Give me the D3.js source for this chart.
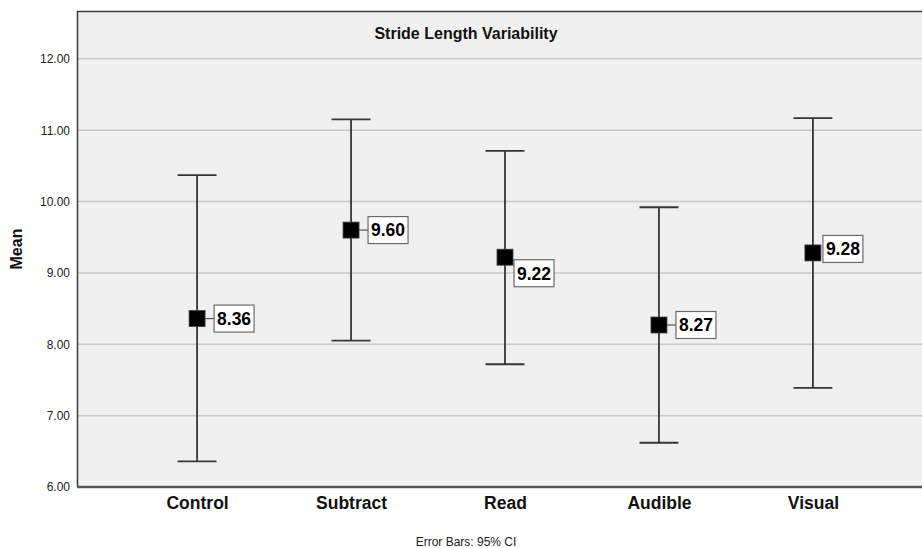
<!DOCTYPE html>
<html>
<head>
<meta charset="utf-8">
<script src="https://cdn.jsdelivr.net/npm/d3@7"></script>
<style>
  html, body { margin: 0; padding: 0; background: #ffffff; }
  svg { display: block; }
</style>
</head>
<body>
<script>
// Stride length variability: group means with 95% confidence intervals
const categories = ["Control", "Subtract", "Read", "Audible", "Visual"];
const means      = [8.36, 9.60, 9.22, 8.27, 9.28];
const ciLower    = [6.36, 8.05, 7.72, 6.62, 7.39];
const ciUpper    = [10.37, 11.15, 10.71, 9.92, 11.17];
const yTicks     = [6, 7, 8, 9, 10, 11, 12];
// where each value label sits relative to its marker
const labelSide  = ["right", "right", "belowRight", "right", "touchRight"];

const W = 922, H = 548;
const plot = { left: 77, top: 11, right: 933, bottom: 487 };

const svg = d3.select("body").append("svg")
  .attr("width", W).attr("height", H)
  .style("font-family", "Arial, 'Liberation Sans', sans-serif");

const x = d3.scalePoint().domain(categories)
  .range([plot.left, plot.right]).padding(0.78);
const y = d3.scaleLinear().domain([6, 12.67]).range([plot.bottom, plot.top]);

// plot background
svg.append("rect")
  .attr("x", plot.left).attr("y", plot.top)
  .attr("width", plot.right - plot.left).attr("height", plot.bottom - plot.top)
  .attr("fill", "#f0f0f0");

// horizontal grid lines
svg.append("g").selectAll("line")
  .data(yTicks.filter(d => d > 6))
  .join("line")
  .attr("x1", plot.left).attr("x2", plot.right)
  .attr("y1", d => y(d)).attr("y2", d => y(d))
  .attr("stroke", "#c8c8c8").attr("stroke-width", 1.5);

// frame
svg.append("line").attr("x1", plot.left).attr("x2", plot.right)
  .attr("y1", plot.top + 0.5).attr("y2", plot.top + 0.5)
  .attr("stroke", "#3a3a3a").attr("stroke-width", 1.5);
svg.append("line").attr("x1", plot.left + 0.5).attr("x2", plot.left + 0.5)
  .attr("y1", plot.top).attr("y2", plot.bottom)
  .attr("stroke", "#3a3a3a").attr("stroke-width", 1.5);
svg.append("line").attr("x1", plot.left).attr("x2", plot.right)
  .attr("y1", plot.bottom).attr("y2", plot.bottom)
  .attr("stroke", "#555555").attr("stroke-width", 2.5);

// y axis tick labels
const yAxis = d3.axisLeft(y).tickValues(yTicks)
  .tickFormat(d3.format(".2f")).tickSize(0).tickPadding(7);
const gy = svg.append("g").attr("transform", `translate(${plot.left},0)`).call(yAxis);
gy.select(".domain").remove();
gy.selectAll("text").attr("font-size", 12).attr("fill", "#222")
  .attr("font-family", "Arial, 'Liberation Sans', sans-serif");

// x axis category labels
const xAxis = d3.axisBottom(x).tickSize(0).tickPadding(10);
const gx = svg.append("g").attr("transform", `translate(0,${plot.bottom})`).call(xAxis);
gx.select(".domain").remove();
gx.selectAll("text").attr("font-size", 17.5).attr("font-weight", "bold").attr("fill", "#111")
  .attr("font-family", "Arial, 'Liberation Sans', sans-serif");

// axis title
svg.append("text")
  .attr("transform", `translate(22,${(plot.top + plot.bottom) / 2}) rotate(-90)`)
  .attr("text-anchor", "middle")
  .attr("font-size", 16).attr("font-weight", "bold").attr("fill", "#111")
  .text("Mean");

// chart title
svg.append("text")
  .attr("x", 466).attr("y", 39)
  .attr("text-anchor", "middle")
  .attr("font-size", 16).attr("font-weight", "bold").attr("fill", "#111")
  .text("Stride Length Variability");

// footnote
svg.append("text")
  .attr("x", 466).attr("y", 546)
  .attr("text-anchor", "middle")
  .attr("font-size", 12).attr("fill", "#222")
  .attr("font-family", "'Liberation Sans Narrow', 'Arial Narrow', Arial, sans-serif")
  .style("font-stretch", "condensed")
  .text("Error Bars: 95% CI");

const rows = categories.map((c, i) => ({
  cat: c, mean: means[i], lo: ciLower[i], hi: ciUpper[i], side: labelSide[i]
}));

const capHalf = 19.5;
const bars = svg.append("g").attr("stroke", "#363636").attr("stroke-width", 1.8);
bars.selectAll(".stem").data(rows).join("line").attr("class", "stem")
  .attr("x1", d => x(d.cat)).attr("x2", d => x(d.cat))
  .attr("y1", d => y(d.hi)).attr("y2", d => y(d.lo));
bars.selectAll(".capHi").data(rows).join("line").attr("class", "capHi")
  .attr("x1", d => x(d.cat) - capHalf).attr("x2", d => x(d.cat) + capHalf)
  .attr("y1", d => y(d.hi)).attr("y2", d => y(d.hi));
bars.selectAll(".capLo").data(rows).join("line").attr("class", "capLo")
  .attr("x1", d => x(d.cat) - capHalf).attr("x2", d => x(d.cat) + capHalf)
  .attr("y1", d => y(d.lo)).attr("y2", d => y(d.lo));

// value labels with connectors
const boxW = 40, boxH = 27, mHalf = 8;
const placement = {
  right:      { dx: 17, dy: 0,  lead: true },
  belowRight: { dx: 9,  dy: 16, lead: false },
  touchRight: { dx: 10, dy: -4, lead: false }
};
const labels = svg.append("g");
rows.forEach(d => {
  const p = placement[d.side];
  const cx = x(d.cat), cy = y(d.mean);
  const bx = cx + p.dx, by = cy + p.dy - boxH / 2;
  if (p.lead) {
    labels.append("line")
      .attr("x1", cx + mHalf).attr("x2", bx)
      .attr("y1", cy).attr("y2", cy)
      .attr("stroke", "#555").attr("stroke-width", 1.2);
  }
  labels.append("rect")
    .attr("x", bx).attr("y", by).attr("width", boxW).attr("height", boxH)
    .attr("fill", "#ffffff").attr("stroke", "#6a6a6a").attr("stroke-width", 1.2);
  labels.append("text")
    .attr("x", bx + boxW / 2).attr("y", by + boxH / 2 + 6.3)
    .attr("text-anchor", "middle")
    .attr("font-size", 17.5).attr("font-weight", "bold").attr("fill", "#000")
    .text(d3.format(".2f")(d.mean));
});

// mean markers
svg.append("g").selectAll("rect").data(rows).join("rect")
  .attr("x", d => x(d.cat) - mHalf).attr("y", d => y(d.mean) - mHalf)
  .attr("width", mHalf * 2).attr("height", mHalf * 2)
  .attr("fill", "#000").attr("stroke", "#444").attr("stroke-width", 0.8);
</script>
</body>
</html>
